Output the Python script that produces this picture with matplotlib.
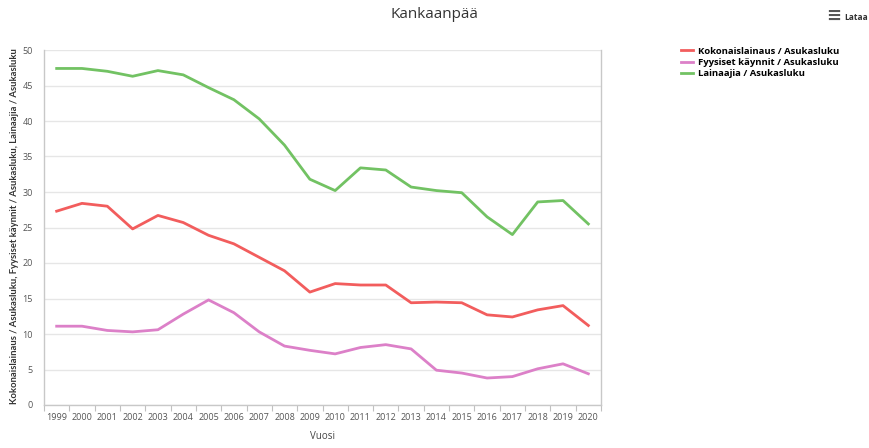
import matplotlib
matplotlib.use("Agg")
import matplotlib.pyplot as plt
from matplotlib.lines import Line2D

plt.rcParams['font.family'] = ['Open Sans', 'DejaVu Sans']

years = [str(y) for y in range(1999, 2021)]
kokonaislainaus = [27.3, 28.4, 28.0, 24.8, 26.7, 25.7, 23.9, 22.7, 20.8, 18.9, 15.9,
                   17.1, 16.9, 16.9, 14.4, 14.5, 14.4, 12.7, 12.4, 13.4, 14.0, 11.2]
fyysiset_kaynnit = [11.1, 11.1, 10.5, 10.3, 10.6, 12.8, 14.8, 13.0, 10.3, 8.3, 7.7,
                    7.2, 8.1, 8.5, 7.9, 4.9, 4.5, 3.8, 4.0, 5.1, 5.8, 4.4]
lainaajia = [47.4, 47.4, 47.0, 46.3, 47.1, 46.5, 44.7, 43.0, 40.3, 36.6, 31.8,
             30.2, 33.4, 33.1, 30.7, 30.2, 29.9, 26.5, 24.0, 28.6, 28.8, 25.5]
series_names = ["Kokonaislainaus / Asukasluku",
                "Fyysiset käynnit / Asukasluku",
                "Lainaajia / Asukasluku"]
colors = ["#f25d5d", "#dc80c8", "#72c263"]
yticks = [0, 5, 10, 15, 20, 25, 30, 35, 40, 45, 50]

fig = plt.figure(figsize=(8.69, 4.48), dpi=100)
ax = fig.add_axes([44 / 869, 1 - 405 / 448, (601 - 44) / 869, (405 - 50) / 448])

x = list(range(len(years)))
for vals, col, name in zip([kokonaislainaus, fyysiset_kaynnit, lainaajia], colors, series_names):
    ax.plot(x, vals, color=col, lw=2.0, label=name, solid_joinstyle='round')

ax.set_xlim(-0.5, len(years) - 0.5)
ax.set_ylim(0, 50)
ax.set_yticks(yticks)
ax.set_yticklabels([str(v) for v in yticks], fontsize=6.5, color="#555555")
ax.set_xticks(x)
ax.set_xticklabels(years, fontsize=6.5, color="#555555")
ax.tick_params(axis='x', which='major', length=0, pad=6)
ax.set_xticks([i + 0.5 for i in range(-1, len(years))], minor=True)
ax.tick_params(axis='x', which='minor', length=4, color="#c0c0c0", width=0.8)
ax.tick_params(axis='y', length=0, pad=8)

ax.grid(axis='y', color="#e6e6e6", lw=1.0)
ax.set_axisbelow(True)
for side in ['left', 'bottom', 'right']:
    ax.spines[side].set_color("#c8c8c8")
    ax.spines[side].set_linewidth(1.0)
ax.spines['top'].set_visible(False)

ax.set_xlabel("Vuosi", fontsize=7, color="#444444", labelpad=6)

fig.text(15 / 869, 1 - 226 / 448,
         "Kokonaislainaus / Asukasluku, Fyysiset käynnit / Asukasluku, Lainaajia / Asukasluku",
         rotation=90, ha='center', va='center', fontsize=6.8, fontweight='bold',
         color="#333333", family=['Lato', 'DejaVu Sans'])

fig.text(434 / 869, 1 - 14 / 448, "Kankaanpää", ha='center', va='center',
         fontsize=11, color="#333333")
fig.text(844 / 869, 1 - 17 / 448, "Lataa", ha='left', va='center',
         fontsize=6, fontweight='bold', color="#333333")
fig.text(834 / 869, 1 - 16 / 448, "≡", ha='center', va='center',
         fontsize=13, fontweight='bold', color="#555555", family=['DejaVu Sans'])

handles = [Line2D([0], [0], color=c, lw=2) for c in colors]
fig.legend(handles, series_names, loc='upper left', bbox_to_anchor=(672 / 869, 1 - 38 / 448),
           frameon=False, handlelength=1.3, handletextpad=0.5,
           labelspacing=0.25, prop={'weight': 'bold', 'size': 6.8})

fig.savefig("out.png", dpi=100, facecolor="white")
